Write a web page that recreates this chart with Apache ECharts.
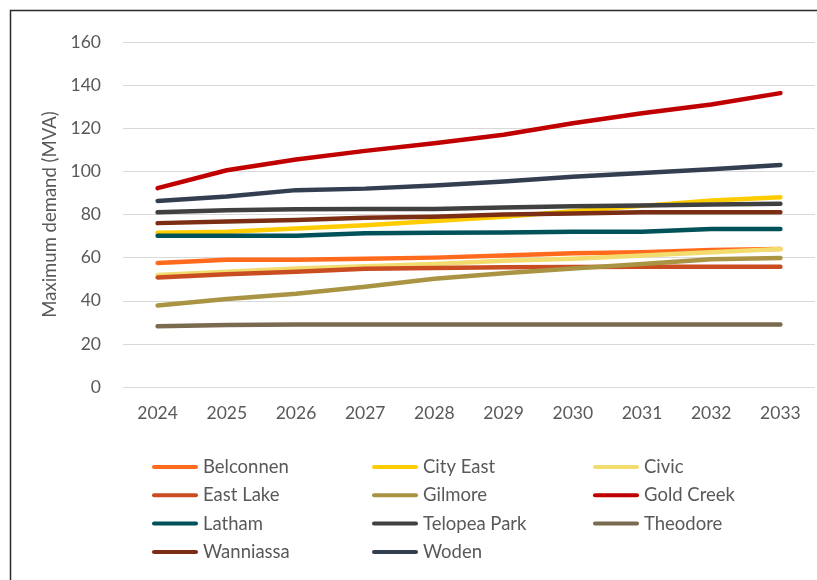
<!DOCTYPE html>
<html>
<head>
<meta charset="utf-8">
<script src="https://cdn.jsdelivr.net/npm/echarts@6/dist/echarts.min.js"></script>
<style>
  html, body { margin: 0; padding: 0; background: #fff; }
  #chart { width: 817px; height: 580px; }
</style>
</head>
<body>
<div id="chart"></div>
<script>
// Forecast maximum demand per zone substation, 2024–2033
const years = ['2024', '2025', '2026', '2027', '2028', '2029', '2030', '2031', '2032', '2033'];

const belconnen   = [57.5, 59, 59, 59.5, 60, 61, 62, 62.5, 63.5, 64];
const cityEast    = [71.5, 72, 73.5, 75, 77, 79, 81.5, 84, 86.5, 88];
const civic       = [52, 53.5, 55, 56, 57, 58.5, 59.5, 61, 62.5, 64];
const eastLake    = [50.8, 52.3, 53.5, 54.8, 55.2, 55.5, 55.6, 55.8, 55.8, 55.8];
const gilmore     = [37.8, 40.8, 43.2, 46.5, 50.2, 52.7, 55, 57, 59.2, 59.8];
const goldCreek   = [92.2, 100.5, 105.5, 109.5, 113, 117, 122.3, 127, 131, 136.3];
const latham      = [70.2, 70.2, 70.2, 71.3, 71.5, 71.6, 72, 72, 73.3, 73.3];
const telopeaPark = [81, 82, 82.4, 82.5, 82.6, 83.2, 83.8, 84.2, 84.6, 85];
const theodore    = [28.2, 28.8, 29, 29, 29, 29, 29, 29, 29, 29];
const wanniassa   = [76, 76.8, 77.5, 78.5, 79, 80, 80.5, 81, 81, 81];
const woden       = [86.3, 88.3, 91.3, 92, 93.5, 95.3, 97.5, 99.2, 101, 103];

const seriesDefs = [
  { name: 'Belconnen',    data: belconnen,   color: '#FF6A1C' },
  { name: 'City East',    data: cityEast,    color: '#FFCC00' },
  { name: 'Civic',        data: civic,       color: '#F2DC6D' },
  { name: 'East Lake',    data: eastLake,    color: '#C94D21' },
  { name: 'Gilmore',      data: gilmore,     color: '#A99443' },
  { name: 'Gold Creek',   data: goldCreek,   color: '#C00000' },
  { name: 'Latham',       data: latham,      color: '#00525A' },
  { name: 'Telopea Park', data: telopeaPark, color: '#404040' },
  { name: 'Theodore',     data: theodore,    color: '#7A6A50' },
  { name: 'Wanniassa',    data: wanniassa,   color: '#7B2E14' },
  { name: 'Woden',        data: woden,       color: '#333F50' }
];

const FONT = 'Lato, "Open Sans", sans-serif';
const TEXT = '#595959';

// legend laid out as three columns of four rows
const legendCols = [
  ['Belconnen', 'East Lake', 'Latham', 'Wanniassa'],
  ['City East', 'Gilmore', 'Telopea Park', 'Woden'],
  ['Civic', 'Gold Creek', 'Theodore']
];
const legendLefts = [152, 372, 593];

const chart = echarts.init(document.getElementById('chart'), null, { renderer: 'canvas' });

chart.setOption({
  backgroundColor: '#fff',
  animation: false,
  textStyle: { fontFamily: FONT },
  graphic: [{
    type: 'rect',
    left: 8, top: 8,
    shape: { width: 900, height: 700 },
    style: { fill: 'none', stroke: '#2b2b2b', lineWidth: 1.5 },
    silent: true
  }],
  grid: { left: 123, right: 2, top: 42, height: 345, containLabel: false },
  xAxis: {
    type: 'category',
    data: years,
    boundaryGap: true,
    axisLine: { show: false },
    axisTick: { show: false },
    axisLabel: { color: TEXT, fontSize: 17.5, fontFamily: FONT, margin: 17 }
  },
  yAxis: {
    type: 'value',
    min: 0, max: 160, interval: 20,
    name: 'Maximum demand (MVA)',
    nameLocation: 'middle',
    nameGap: 61,
    nameTextStyle: { color: TEXT, fontSize: 18.5, fontFamily: FONT },
    axisLine: { show: false },
    axisTick: { show: false },
    axisLabel: { color: TEXT, fontSize: 17.5, fontFamily: FONT, margin: 22 },
    splitLine: { lineStyle: { color: '#D9D9D9', width: 1 } }
  },
  legend: legendCols.map((names, i) => ({
    data: names,
    orient: 'vertical',
    left: legendLefts[i],
    top: 457,
    itemWidth: 46,
    itemHeight: 20,
    itemGap: 8.3,
    padding: 0,
    icon: 'path://M2,8 L44,8 A2,2 0 0 1 44,12 L2,12 A2,2 0 0 1 2,8 Z',
    textStyle: { color: TEXT, fontSize: 18.5, fontFamily: FONT, lineHeight: 20, padding: [0, 0, 0, 0] },
    selectedMode: false
  })),
  series: seriesDefs.map(s => ({
    name: s.name,
    type: 'line',
    data: s.data,
    symbol: 'none',
    smooth: false,
    color: s.color,
    lineStyle: { color: s.color, width: 4.5, cap: 'round', join: 'round' },
    itemStyle: { color: s.color }
  }))
});
</script>
</body>
</html>
